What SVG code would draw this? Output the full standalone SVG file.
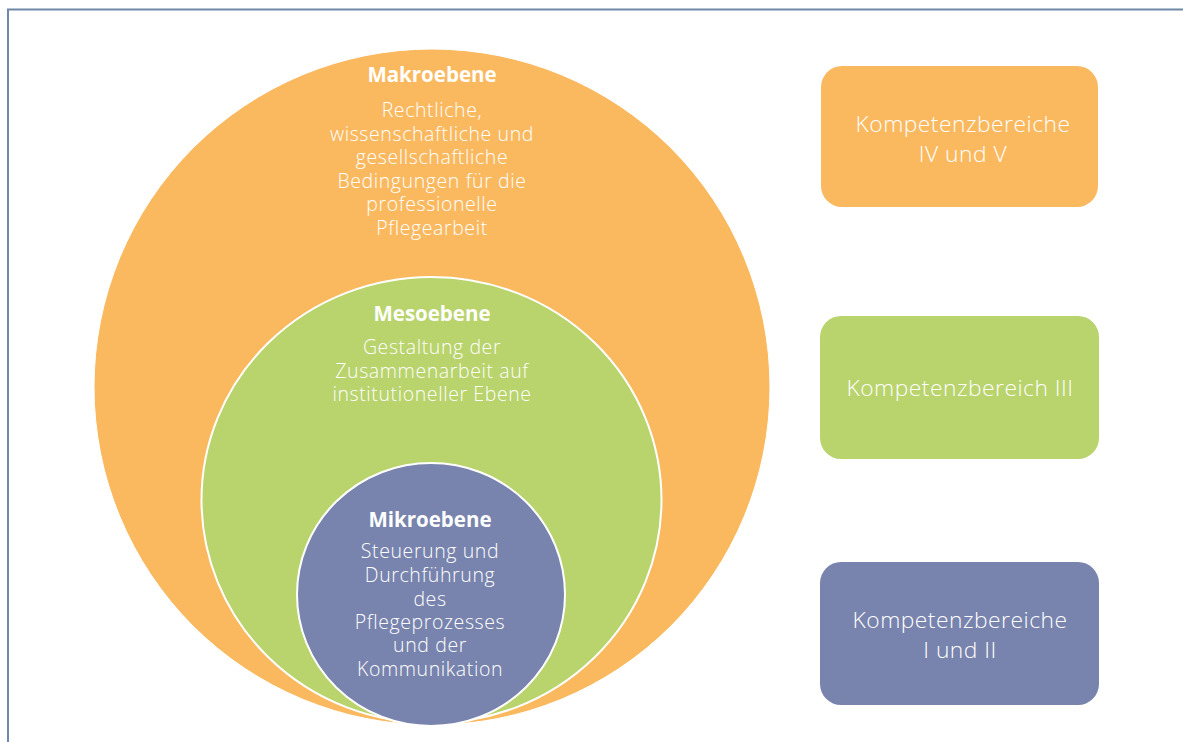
<svg xmlns="http://www.w3.org/2000/svg" width="1183" height="742" viewBox="0 0 1183 742">
<style>
.t{font-family:"Open Sans","Noto Sans",sans-serif;fill:#fff;text-anchor:middle}
.h{font-size:20.5px;font-weight:bold}
.b{font-size:19.5px;font-weight:300;letter-spacing:0.6px}
.k{font-size:22.8px;font-weight:300;letter-spacing:0.5px}
.org{fill:#FAB95F}
.grn{fill:#B9D36D}
.blu{fill:#7884AD}
.ring{stroke:#fff;stroke-width:2}
</style>
<rect width="1183" height="742" fill="#fff"/>
<path d="M8 742 V9.5 H1183" fill="none" stroke="#6F88A8" stroke-width="2"/>
<g id="makroebene">
<circle class="org" cx="432" cy="387" r="338" stroke="#fff" stroke-width="1"/>
<text class="t h" x="432" y="82">Makroebene</text>
<text class="t b" x="432" y="117">Rechtliche,</text>
<text class="t b" x="432" y="140.5">wissenschaftliche und</text>
<text class="t b" x="432" y="164">gesellschaftliche</text>
<text class="t b" x="432" y="187.5">Bedingungen für die</text>
<text class="t b" x="432" y="211">professionelle</text>
<text class="t b" x="432" y="234.5">Pflegearbeit</text>
</g>
<g id="mesoebene">
<ellipse class="grn ring" cx="431.5" cy="500" rx="230" ry="223"/>
<text class="t h" x="432" y="321">Mesoebene</text>
<text class="t b" x="432" y="354">Gestaltung der</text>
<text class="t b" x="432" y="377.5">Zusammenarbeit auf</text>
<text class="t b" x="432" y="401">institutioneller Ebene</text>
</g>
<g id="mikroebene">
<ellipse class="blu ring" cx="431" cy="594.5" rx="134" ry="131.5"/>
<text class="t h" x="430" y="527">Mikroebene</text>
<text class="t b" x="430" y="558">Steuerung und</text>
<text class="t b" x="430" y="582">Durchführung</text>
<text class="t b" x="430" y="606">des</text>
<text class="t b" x="430" y="629">Pflegeprozesses</text>
<text class="t b" x="430" y="652">und der</text>
<text class="t b" x="430" y="676">Kommunikation</text>
</g>
<g id="kb45">
<rect class="org" x="821" y="66" width="277" height="141" rx="21"/>
<text class="t k" x="963" y="132">Kompetenzbereiche</text>
<text class="t k" x="963" y="162">IV und V</text>
</g>
<g id="kb3">
<rect class="grn" x="820" y="316" width="279" height="143" rx="21"/>
<text class="t k" x="960" y="396">Kompetenzbereich III</text>
</g>
<g id="kb12">
<rect class="blu" x="820" y="562" width="279" height="143" rx="21"/>
<text class="t k" x="960" y="628">Kompetenzbereiche</text>
<text class="t k" x="960" y="658">I und II</text>
</g>
<g id="connectors"></g>
</svg>
